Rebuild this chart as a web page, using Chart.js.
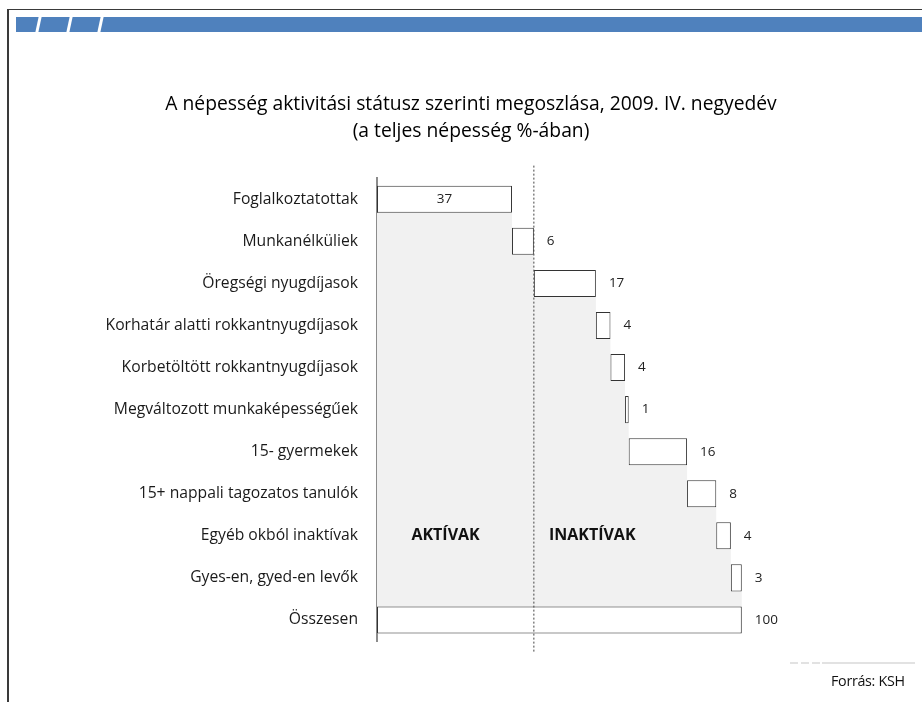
<!DOCTYPE html>
<html><head><meta charset="utf-8">
<script src="https://cdn.jsdelivr.net/npm/chart.js@4"></script>
<style>
html,body{margin:0;padding:0;background:#fff;}
body{width:922px;height:702px;position:relative;overflow:hidden;font-family:"Open Sans",sans-serif;}
#frameL{position:absolute;left:7px;top:9px;width:2px;height:693px;background:#3a3a3a;}
#frameT{position:absolute;left:7px;top:9px;width:915px;height:1px;background:#3a3a3a;}
#band{position:absolute;left:16px;top:17px;width:906px;height:15px;background:#4F81BD;overflow:hidden;}
.slash{position:absolute;top:-2px;width:3px;height:19px;background:#fff;transform:skewX(-12deg);}
#wrap{position:absolute;left:20px;top:0;width:902px;height:702px;}
.dash{position:absolute;top:662px;height:2px;background:#e2e2e2;}
#src{position:absolute;left:831px;top:671px;font-size:14.3px;color:#111;letter-spacing:-0.3px;white-space:nowrap;}
</style></head>
<body>
<div id="frameT"></div><div id="frameL"></div>
<div id="band"><div class="slash" style="left:21px"></div><div class="slash" style="left:52px"></div><div class="slash" style="left:83px"></div></div>
<div id="wrap"><canvas id="c" width="902" height="702"></canvas></div>
<div class="dash" style="left:790px;width:8px"></div>
<div class="dash" style="left:801px;width:8px"></div>
<div class="dash" style="left:812px;width:8px"></div>
<div class="dash" style="left:822px;width:93px"></div>
<div id="src">Forrás: KSH</div>
<script>
// ---- data ----
const categories = [
  "Foglalkoztatottak",
  "Munkanélküliek",
  "Öregségi nyugdíjasok",
  "Korhatár alatti rokkantnyugdíjasok",
  "Korbetöltött rokkantnyugdíjasok",
  "Megváltozott munkaképességűek",
  "15- gyermekek",
  "15+ nappali tagozatos tanulók",
  "Egyéb okból inaktívak",
  "Gyes-en, gyed-en levők",
  "Összesen"
];
const values = [37, 6, 17, 4, 4, 1, 16, 8, 4, 3, 100];
const isTotal = [false, false, false, false, false, false, false, false, false, false, true];
const groupNames = ["AKTÍVAK", "INAKTÍVAK"];
const activeCount = 2; // first two categories are the active population

const titleLines = [
  "A népesség aktivitási státusz szerinti megoszlása, 2009. IV. negyedév",
  "(a teljes népesség %-ában)"
];

// ---- derived (waterfall ranges) ----
let cum = 0;
const ranges = values.map((v, i) => {
  if (isTotal[i]) return [0, v];
  const r = [cum, cum + v];
  cum += v;
  return r;
});
const activeTotal = values.slice(0, activeCount).reduce((a, b) => a + b, 0);

const BAR_FRAC = 0.643;
const half = BAR_FRAC / 2;
const n = categories.length;

// staircase outline of grey area (left of each step)
const stepPts = [];
for (let i = 1; i < n; i++) {
  const x = ranges[i - 1][1];
  stepPts.push({x: x, y: i - 1 + half}, {x: x, y: i + half});
}
const sepPts = [{x: activeTotal, y: -0.8}, {x: activeTotal, y: n - 1 + 0.76}];

const FONT = '"Open Sans", sans-serif';
Chart.defaults.font.family = FONT;

// the plot area runs to the canvas' right edge so the title is centred on the page;
// the visible axis range beyond 100 is empty space for the value labels
const X_MAX = 149.4;

const labelPlugin = {
  id: 'valLabels',
  afterDatasetsDraw(chart) {
    const ctx = chart.ctx;
    const meta = chart.getDatasetMeta(1);
    ctx.save();
    ctx.font = '13.5px ' + FONT;
    ctx.fillStyle = '#222';
    ctx.textBaseline = 'middle';
    meta.data.forEach((bar, i) => {
      const p = bar.getProps(['x', 'y', 'base'], true);
      if (i === 0) {
        ctx.textAlign = 'center';
        ctx.fillText(String(values[i]), (p.base + p.x) / 2, p.y);
      } else {
        ctx.textAlign = 'left';
        ctx.fillText(String(values[i]), p.x + 13, p.y);
      }
    });
    // group names
    const xs = chart.scales.x, ys = chart.scales.y;
    const yy = ys.getPixelForValue(8);
    ctx.font = 'bold 16px ' + FONT;
    ctx.fillStyle = '#111';
    ctx.textAlign = 'center';
    ctx.fillText(groupNames[0], xs.getPixelForValue(18.8), yy);
    ctx.fillText(groupNames[1], xs.getPixelForValue(59), yy);
    ctx.restore();
  }
};

new Chart(document.getElementById('c'), {
  data: {
    labels: categories,
    datasets: [
      {
        type: 'line', indexAxis: 'y', xAxisID: 'x', yAxisID: 'y2',
        data: stepPts, borderWidth: 0, borderColor: 'rgba(0,0,0,0)',
        pointRadius: 0, fill: 'origin', backgroundColor: '#f1f1f1', order: 3, tension: 0
      },
      {
        type: 'bar', indexAxis: 'y', xAxisID: 'x', yAxisID: 'y',
        data: ranges, backgroundColor: '#ffffff', borderColor: '#333333', borderWidth: 1,
        borderSkipped: false, grouped: false,
        barPercentage: BAR_FRAC, categoryPercentage: 1, order: 2
      },
      {
        type: 'line', indexAxis: 'y', xAxisID: 'x', yAxisID: 'y2',
        data: sepPts, borderWidth: 1, borderColor: '#444', borderDash: [2, 2],
        pointRadius: 0, fill: false, clip: false, order: 1
      }
    ]
  },
  options: {
    indexAxis: 'y',
    responsive: false,
    animation: false,
    devicePixelRatio: 1,
    layout: {padding: {top: 80, bottom: 61, left: 0, right: 0}},
    plugins: {
      legend: {display: false},
      tooltip: {enabled: false},
      title: {
        display: true, text: titleLines, color: '#000',
        font: {family: FONT, size: 19.3, weight: 'normal', lineHeight: 1.4},
        padding: {top: 11, bottom: 33.2}
      }
    },
    scales: {
      x: {type: 'linear', min: 0, max: X_MAX, display: false},
      y: {
        type: 'category', position: 'left',
        grid: {display: false, drawTicks: false},
        border: {display: true, color: '#8c8c8c', width: 2},
        ticks: {color: '#1a1a1a', font: {family: FONT, size: 15.7}, padding: 19, autoSkip: false},
        afterFit(s) { s.width = 357; }
      },
      y2: {type: 'linear', axis: 'y', position: 'left', display: false, reverse: true, min: -0.5, max: n - 0.5}
    }
  },
  plugins: [labelPlugin]
});
</script>
</body></html>
